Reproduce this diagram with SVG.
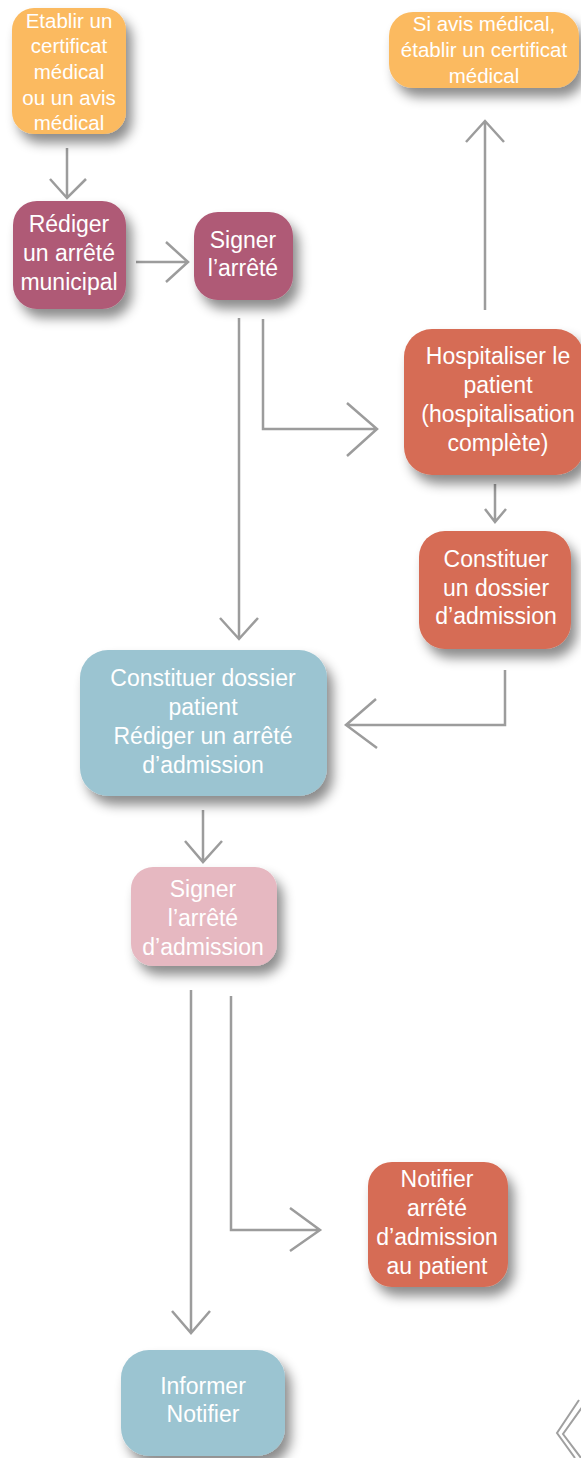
<svg xmlns="http://www.w3.org/2000/svg" width="581" height="1458" viewBox="0 0 581 1458">
  <style>
    .box { filter: url(#shadow); }
    .orange { fill: #FBBA60; }
    .plum { fill: #AF5A76; }
    .brick { fill: #D66C54; }
    .teal { fill: #9BC4D1; }
    .rose { fill: #E6B8C1; }
    text { font-family: "Liberation Sans", Arial, sans-serif; fill: #FFFFFF; text-anchor: middle; dominant-baseline: central; }
    .sm { font-size: 20.5px; }
    .md { font-size: 23px; }
    .lg { font-size: 23px; }
    .wire { fill: none; stroke: #9C9C9C; stroke-width: 2.5; stroke-linejoin: miter; stroke-linecap: butt; }
    .deco { fill: none; stroke: #A0A0A0; stroke-width: 2; }
  </style>
  <defs>
    <filter id="shadow" x="-20%" y="-20%" width="160%" height="170%">
      <feDropShadow dx="6" dy="9" stdDeviation="6" flood-color="#000" flood-opacity="0.45"/>
    </filter>
  </defs>
  <rect width="581" height="1458" fill="#FFFFFF"/>

  <!-- connectors -->
  <g id="connectors">
    <path class="wire" d="M67,148 V198 M50,179 L67,198 L86,179"/>
    <path class="wire" d="M136,262 H188 M166,242 L188,262 L166,282"/>
    <path class="wire" d="M239,318 V639 M220,618 L239,639 L258,618"/>
    <path class="wire" d="M263,319 V429 H377 M347,403 L377,429 L347,456"/>
    <path class="wire" d="M485,310 V121 M466,142 L485,121 L504,142"/>
    <path class="wire" d="M495,484 V522 M485,509 L495,522 L506,509"/>
    <path class="wire" d="M505,670 V725 H346 M376,699 L346,725 L377,748"/>
    <path class="wire" d="M203,810 V862 M185,841 L203,862 L222,841"/>
    <path class="wire" d="M191,990 V1333 M172,1311 L191,1333 L210,1311"/>
    <path class="wire" d="M231,996 V1230 H320 M290,1208 L320,1230 L290,1251"/>
  </g>

  <!-- corner ornament -->
  <g id="ornament">
    <path class="deco" d="M579,1400 L557,1433 L575,1458"/>
    <path class="deco" d="M583,1406 L563,1434 L581,1458"/>
  </g>

  <g id="node-certificat">
    <rect class="box orange" x="12" y="8" width="114" height="126" rx="22"/>
    <text class="sm" x="69" y="20">Etablir un</text>
    <text class="sm" x="69" y="45">certificat</text>
    <text class="sm" x="69" y="71">médical</text>
    <text class="sm" x="69" y="97">ou un avis</text>
    <text class="sm" x="69" y="122">médical</text>
  </g>

  <g id="node-avis">
    <rect class="box orange" x="389" y="12" width="190" height="76" rx="24"/>
    <text class="sm" x="484" y="23">Si avis médical,</text>
    <text class="sm" x="484" y="49">établir un certificat</text>
    <text class="sm" x="484" y="75">médical</text>
  </g>

  <g id="node-rediger">
    <rect class="box plum" x="13" y="201" width="113" height="108" rx="24"/>
    <text class="md" x="69" y="224">Rédiger</text>
    <text class="md" x="69" y="253">un arrêté</text>
    <text class="md" x="69" y="282">municipal</text>
  </g>

  <g id="node-signer">
    <rect class="box plum" x="194" y="212" width="99" height="88" rx="24"/>
    <text class="md" x="243" y="240">Signer</text>
    <text class="md" x="243" y="268">l’arrêté</text>
  </g>

  <g id="node-hospitaliser">
    <rect class="box brick" x="404" y="329" width="180" height="146" rx="28"/>
    <text class="md" x="498" y="356">Hospitaliser le</text>
    <text class="md" x="498" y="385">patient</text>
    <text class="md" x="498" y="414">(hospitalisation</text>
    <text class="md" x="498" y="443">complète)</text>
  </g>

  <g id="node-dossier-admission">
    <rect class="box brick" x="419" y="531" width="152" height="118" rx="26"/>
    <text class="md" x="496" y="559">Constituer</text>
    <text class="md" x="496" y="588">un dossier</text>
    <text class="md" x="496" y="616">d’admission</text>
  </g>

  <g id="node-dossier-patient">
    <rect class="box teal" x="80" y="650" width="247" height="146" rx="28"/>
    <text class="lg" x="203" y="678">Constituer dossier</text>
    <text class="lg" x="203" y="707">patient</text>
    <text class="lg" x="203" y="736">Rédiger un arrêté</text>
    <text class="lg" x="203" y="765">d’admission</text>
  </g>

  <g id="node-signer-admission">
    <rect class="box rose" x="131" y="867" width="146" height="99" rx="22"/>
    <text class="md" x="203" y="889">Signer</text>
    <text class="md" x="203" y="918">l’arrêté</text>
    <text class="md" x="203" y="947">d’admission</text>
  </g>

  <g id="node-notifier">
    <rect class="box brick" x="368" y="1162" width="140" height="125" rx="24"/>
    <text class="md" x="437" y="1179">Notifier</text>
    <text class="md" x="437" y="1208">arrêté</text>
    <text class="md" x="437" y="1237">d’admission</text>
    <text class="md" x="437" y="1266">au patient</text>
  </g>

  <g id="node-informer">
    <rect class="box teal" x="121" y="1350" width="164" height="106" rx="28"/>
    <text class="md" x="203" y="1386">Informer</text>
    <text class="md" x="203" y="1414">Notifier</text>
  </g>
</svg>
